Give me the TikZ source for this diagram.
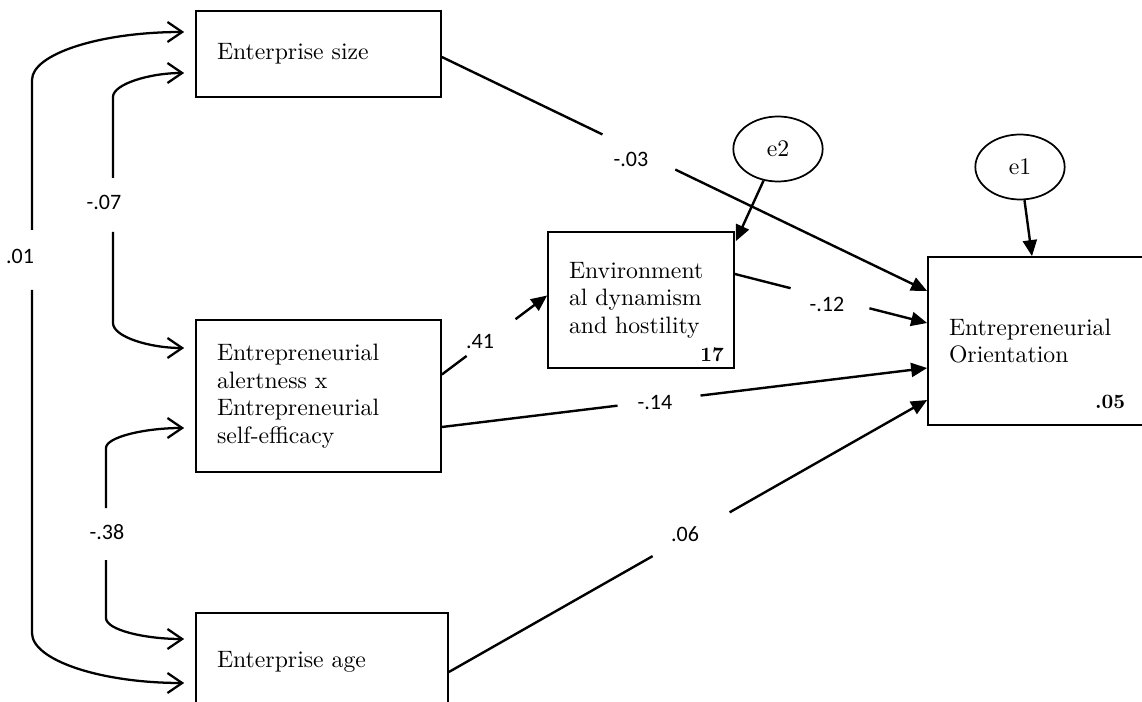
\documentclass[tikz,border=0pt]{standalone}
\usepackage{fontspec}
\setmainfont{lmroman10-regular.otf}[BoldFont=lmroman10-bold.otf,ItalicFont=lmroman10-italic.otf]
\newfontfamily\lblfont{Carlito}
\usetikzlibrary{arrows.meta,calc,shapes.geometric}
\begin{document}
\begin{tikzpicture}[x=0.75pt,y=-0.75pt,
  box/.style={draw,line width=1.3pt,rectangle,align=left,inner xsep=15.75pt,inner ysep=0pt,font=\fontsize{17.8pt}{20.6pt}\selectfont},
  err/.style={draw,line width=1.3pt,ellipse,inner sep=0pt,minimum width=67pt,minimum height=48.75pt,font=\fontsize{17.8pt}{20.6pt}\selectfont},
  coef/.style={font=\lblfont\fontsize{16.5pt}{18pt}\selectfont,inner sep=0pt},
  rsq/.style={font=\fontsize{15.3pt}{17pt}\selectfont\bfseries,inner sep=0pt},
  conn/.style={line width=1.8pt},
  arr/.style={conn,-{Triangle[length=12pt,width=10.5pt]}},
  cov/.style={line width=1.7pt,-{Straight Barb[length=11pt,width=15pt]}},
]
\useasboundingbox (0,0) rectangle (1142,702);
\clip (0,0) rectangle (1142,702);

% boxes
\node[box,text width=152.25pt,minimum height=64.5pt] (es) at (318.5,54) {Enterprise size};
\node[box,text width=152.25pt,minimum height=114pt] (al) at (318.5,396) {Entrepreneurial\\alertness x\\Entrepreneurial\\self-efficacy};
\node[box,text width=157.5pt,minimum height=73.5pt] (age) at (322,662) {Enterprise age};
\node[box,text width=108pt,minimum height=102pt] (env) at (641,300) {Environment\\al dynamism\\and hostility};
\node[box,text width=142.5pt,minimum height=126pt] (eo) at (1044,341) {Entrepreneurial\\Orientation};

% error terms
\node[err] (e2) at (778,149) {e2};
\node[err] (e1) at (1020,167) {e1};

% R-squared
\node[rsq] (r17) at (712,355) {17};
\node[rsq] (r05) at (1110,402) {.05};

% size -> EO
\coordinate (esA) at ($(es.east)+(0,3)$);
\coordinate (eoA) at ($(eo.west)+(0,-50)$);
\draw[conn] (esA) -- ($(esA)!0.331!(eoA)$);
\draw[arr] ($(esA)!0.481!(eoA)$) -- (eoA);
\node[coef] (c03) at (631,159) {-.03};

% env -> EO
\coordinate (envB) at ($(env.east)+(0,-26)$);
\coordinate (eoB) at ($(eo.west)+(0,-18)$);
\draw[conn] (envB) -- ($(envB)!0.29!(eoB)$);
\draw[arr] ($(envB)!0.70!(eoB)$) -- (eoB);
\node[coef] (c12) at (827,304) {-.12};

% alertness -> env
\coordinate (alA) at ($(al.east)+(0,-21.5)$);
\coordinate (envA) at ($(env.west)+(0,-4.5)$);
\draw[conn] (alA) -- ($(alA)!0.235!(envA)$);
\draw[arr] ($(alA)!0.70!(envA)$) -- (envA);
\node[coef] (c41) at (480,342) {.41};

% alertness -> EO
\coordinate (alB) at ($(al.east)+(0,31)$);
\coordinate (eoC) at ($(eo.west)+(0,27)$);
\draw[conn] (alB) -- ($(alB)!0.362!(eoC)$);
\draw[arr] ($(alB)!0.533!(eoC)$) -- (eoC);
\node[coef] (c14) at (655,403) {-.14};

% age -> EO
\coordinate (ageA) at ($(age.east)+(0,10)$);
\coordinate (eoD) at ($(eo.west)+(0,59)$);
\draw[conn] (ageA) -- ($(ageA)!0.426!(eoD)$);
\draw[arr] ($(ageA)!0.587!(eoD)$) -- (eoD);
\node[coef] (c06) at (685,534) {.06};

% errors
\draw[arr] (e2) -- ($(env.north east)+(1,10)$);
\draw[arr] (e1) -- ($(eo.north)+(-12,0)$);

% covariances
\coordinate (g01a) at (32,230);
\coordinate (g01b) at (32,290);
\draw[cov] (g01a) -- (32,80) .. controls (32,54) and (100,32) .. ($(es.west)+(-11,-22)$);
\draw[cov] (g01b) -- (32,633) .. controls (32,660) and (100,683) .. ($(age.west)+(-11,21)$);
\node[coef] (c01) at (20,256) {.01};

\coordinate (g07a) at (113,178);
\coordinate (g07b) at (113,232);
\draw[cov] (g07a) -- (113,97) .. controls (113,84) and (150,73) .. ($(es.west)+(-11,19)$);
\draw[cov] (g07b) -- (113,323) .. controls (113,337) and (150,348) .. ($(al.west)+(-11,-48)$);
\node[coef] (c07) at (104,202) {-.07};

\coordinate (g38a) at (106,508);
\coordinate (g38b) at (106,560);
\draw[cov] (g38a) -- (106,448) .. controls (106,437) and (145,428) .. ($(al.west)+(-11,32)$);
\draw[cov] (g38b) -- (106,618) .. controls (106,630) and (145,639) .. ($(age.west)+(-11,-23)$);
\node[coef] (c38) at (107,532) {-.38};
\end{tikzpicture}
\end{document}
